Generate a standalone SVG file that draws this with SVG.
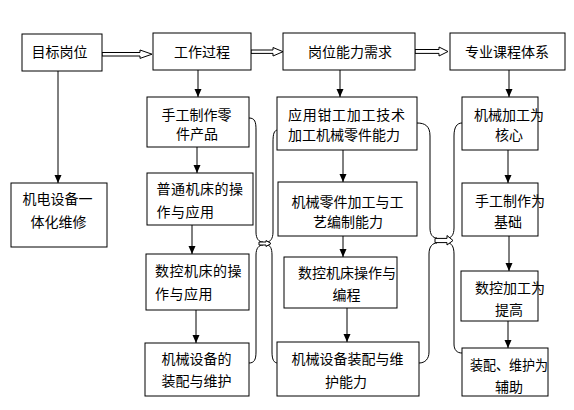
<svg xmlns="http://www.w3.org/2000/svg" width="574" height="410" viewBox="0 0 574 410">
<defs>
<marker id="ah" markerUnits="userSpaceOnUse" markerWidth="9" markerHeight="8" refX="8" refY="3.5" orient="auto">
<path d="M0,0 L8,3.5 L0,7 z" fill="#000"/>
</marker>
<style>
.box{fill:#fff;stroke:#000;stroke-width:1}
.t{font-family:"Noto Sans CJK SC","Liberation Sans",sans-serif;font-size:14px;fill:#000;dominant-baseline:central}
.ln{stroke:#000;stroke-width:1;fill:none}
.ar{stroke:#000;stroke-width:1;fill:none;marker-end:url(#ah)}
.ha{fill:#fff;stroke:#000;stroke-width:1}
.br{stroke:#000;stroke-width:1;fill:none}
</style>
</defs>
<rect width="574" height="410" fill="#fff"/>
<g id="connectors">
<polygon class="ha" points="102,52.5 140,52.5 140,50 152,54.2 140,58.4 140,56 102,56"/>
<polygon class="ha" points="251,50 273,50 273,47.5 283,51.7 273,56 273,53.4 251,53.4"/>
<polygon class="ha" points="415,49.5 439,49.5 439,47 448,51.5 439,56 439,53.4 415,53.4"/>
<line class="ar" x1="58" y1="71" x2="58" y2="183"/>
<line class="ar" x1="198" y1="70" x2="198" y2="97"/>
<line class="ar" x1="197" y1="147" x2="197" y2="173"/>
<line class="ar" x1="192" y1="225" x2="192" y2="254"/>
<line class="ar" x1="196" y1="310" x2="196" y2="343"/>
<line class="ar" x1="340" y1="70" x2="340" y2="97"/>
<line class="ar" x1="343" y1="150" x2="343" y2="182"/>
<line class="ar" x1="343" y1="236" x2="343" y2="257"/>
<line class="ar" x1="347" y1="308" x2="347" y2="342"/>
<line class="ar" x1="509" y1="70" x2="509" y2="97"/>
<line class="ar" x1="508" y1="150" x2="508" y2="183"/>
<line class="ar" x1="509" y1="236" x2="509" y2="271"/>
<line class="ar" x1="508" y1="321" x2="508" y2="348"/>
<path class="br" d="M249,118 C255,118 256,122 256,130 L256,232 C256,239 259,242 263,242"/>
<path class="br" d="M263,245 C259,245 256,248 256,255 L256,352 C256,360 254,363 249,363"/>
<path class="br" d="M278,130 C274,130 273,134 273,142 L273,232 C273,239 270,242 267,242"/>
<path class="br" d="M267,245 C270,245 272,248 272,255 L272,352 C272,360 274,363 278,363"/>
<polygon class="ha" points="259,242 266,242 266,240.5 271,243.5 266,246.5 266,245 259,245"/>
<path class="br" d="M417,123 C425,123 430,126 430,136 L430,228 C430,235 433,238 437,238"/>
<path class="br" d="M437,243 C433,243 429,246 429,254 L429,352 C429,359 425,363 419,363"/>
<path class="br" d="M462,123 C457,123 454,127 454,136 L454,228 C454,235 451,238 448,238"/>
<path class="br" d="M448,243 C451,243 454,246 454,254 L454,344 C454,350 457,353 462,353"/>
<polygon class="ha" points="435,238.4 447,238.4 447,235.5 453,240.5 447,245 447,242.6 435,242.6"/>
</g>
<g id="n1"><rect class="box" x="22" y="34" width="80" height="37"/><text class="t" x="31.5" y="51">目标岗位</text></g>
<g id="n2"><rect class="box" x="153" y="33" width="98" height="37"/><text class="t" x="174" y="51">工作过程</text></g>
<g id="n3"><rect class="box" x="283" y="33" width="132" height="37"/><text class="t" x="308" y="51">岗位能力需求</text></g>
<g id="n4"><rect class="box" x="450" y="33" width="115" height="37"/><text class="t" x="465" y="51">专业课程体系</text></g>
<g id="n5"><rect class="box" x="11" y="183" width="96" height="64"/><text class="t" x="22.5" y="198">机电设备一</text><text class="t" x="30.5" y="221">体化维修</text></g>
<g id="n6"><rect class="box" x="147" y="97" width="102" height="50"/><text class="t" x="161.5" y="114">手工制作零</text><text class="t" x="176" y="133">件产品</text></g>
<g id="n7"><rect class="box" x="147" y="173" width="106" height="52"/><text class="t" x="156.5" y="187.5" letter-spacing="0.5">普通机床的操</text><text class="t" x="156.5" y="211" letter-spacing="0.5">作与应用</text></g>
<g id="n8"><rect class="box" x="146" y="254" width="103" height="56"/><text class="t" x="155" y="270" letter-spacing="0.5">数控机床的操</text><text class="t" x="155" y="292.5" letter-spacing="0.5">作与应用</text></g>
<g id="n9"><rect class="box" x="145" y="343" width="104" height="53"/><text class="t" x="161.5" y="358">机械设备的</text><text class="t" x="161.5" y="380">装配与维护</text></g>
<g id="n10"><rect class="box" x="277" y="97" width="140" height="53"/><text class="t" x="288" y="114" letter-spacing="0.7">应用钳工加工技术</text><text class="t" x="288" y="133.5">加工机械零件能力</text></g>
<g id="n11"><rect class="box" x="278" y="182" width="139" height="54"/><text class="t" x="291.5" y="201">机械零件加工与工</text><text class="t" x="313" y="221">艺编制能力</text></g>
<g id="n12"><rect class="box" x="284" y="257" width="113" height="51"/><text class="t" x="298" y="271.5">数控机床操作与</text><text class="t" x="332.5" y="294">编程</text></g>
<g id="n13"><rect class="box" x="277" y="342" width="142" height="54"/><text class="t" x="291.5" y="358">机械设备装配与维</text><text class="t" x="325" y="381">护能力</text></g>
<g id="n14"><rect class="box" x="462" y="97" width="76" height="53"/><text class="t" x="474" y="114">机械加工为</text><text class="t" x="495" y="134">核心</text></g>
<g id="n15"><rect class="box" x="462" y="183" width="76" height="53"/><text class="t" x="475" y="200">手工制作为</text><text class="t" x="494" y="221">基础</text></g>
<g id="n16"><rect class="box" x="461" y="271" width="77" height="50"/><text class="t" x="475" y="287">数控加工为</text><text class="t" x="495" y="309">提高</text></g>
<g id="n17"><rect class="box" x="462" y="348" width="86" height="48"/><text class="t" x="470" y="363.5" textLength="78" lengthAdjust="spacingAndGlyphs">装配、维护为</text><text class="t" x="495" y="386">辅助</text></g>
</svg>
